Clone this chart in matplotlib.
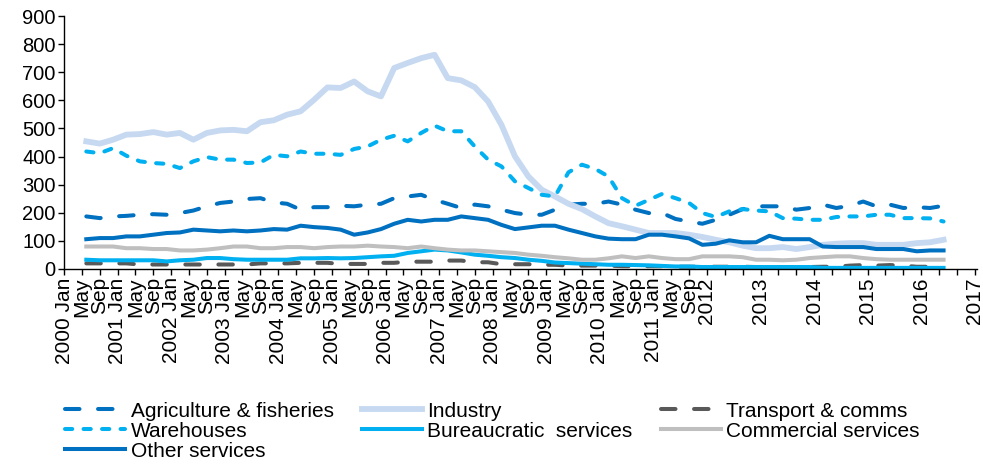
import numpy as np
import pandas as pd
import matplotlib
matplotlib.use('Agg')
import matplotlib.pyplot as plt

plt.rcParams['font.family'] = ['Liberation Sans', 'DejaVu Sans']

# quarterly readings, Jun 2000 - Jun 2016
dates = pd.date_range('2000-06-01', periods=65, freq='3MS')

agriculture = [187, 181, 187, 189, 193, 195, 193, 199, 208, 223, 235, 240, 249, 252, 237, 232,
               211, 220, 220, 225, 223, 229, 232, 252, 258, 264, 246, 232, 217, 229, 223, 211,
               199, 193, 193, 211, 229, 232, 232, 240, 229, 211, 199, 199, 178, 169, 161, 175,
               193, 213, 223, 223, 223, 211, 217, 229, 217, 225, 240, 223, 229, 217, 220, 217, 225]
industry = [454, 446, 460, 478, 480, 487, 478, 484, 460, 484, 493, 495, 490, 522, 529, 549,
            561, 602, 646, 644, 667, 632, 614, 715, 733, 750, 762, 679, 671, 647, 596, 513,
            401, 329, 282, 258, 232, 213, 187, 163, 152, 140, 128, 128, 128, 122, 114, 104,
            95, 83, 74, 74, 78, 71, 78, 86, 90, 92, 92, 86, 86, 86, 92, 95, 104]
transport = [20, 20, 20, 20, 16, 16, 16, 16, 16, 16, 16, 16, 16, 20, 20, 20,
             22, 22, 22, 18, 18, 18, 22, 22, 26, 26, 26, 30, 30, 24, 24, 17,
             17, 17, 15, 15, 12, 12, 12, 12, 10, 10, 10, 10, 8, 8, 8, 8,
             8, 8, 7, 7, 7, 7, 7, 8, 8, 12, 14, 12, 14, 12, 8, 8, 6]
warehouses = [418, 412, 430, 403, 383, 377, 374, 359, 383, 398, 389, 389, 377, 379, 406, 401,
              418, 410, 410, 406, 427, 436, 460, 474, 454, 484, 510, 490, 490, 436, 389, 365,
              312, 288, 264, 258, 344, 371, 356, 329, 252, 225, 246, 267, 252, 235, 199, 185,
              205, 213, 208, 205, 181, 179, 175, 175, 185, 187, 187, 193, 193, 181, 181, 180, 169]
bureaucratic = [33, 31, 31, 31, 31, 31, 27, 31, 33, 39, 39, 35, 33, 33, 33, 33,
                38, 38, 39, 38, 39, 42, 45, 47, 57, 63, 69, 66, 59, 51, 47, 42,
                39, 33, 29, 23, 21, 19, 17, 15, 15, 14, 13, 11, 9, 9, 7, 7,
                7, 7, 7, 7, 7, 7, 7, 4, 4, 4, 4, 4, 4, 4, 4, 4, 4]
commercial = [80, 80, 80, 74, 74, 71, 71, 66, 66, 69, 74, 80, 80, 74, 74, 78,
              78, 74, 78, 80, 80, 83, 80, 78, 74, 80, 74, 69, 66, 66, 63, 60,
              57, 51, 47, 42, 38, 33, 33, 38, 45, 39, 45, 39, 35, 35, 45, 45,
              45, 42, 33, 33, 31, 33, 39, 42, 45, 45, 39, 35, 33, 33, 33, 33, 33]
other = [106, 110, 110, 116, 116, 122, 128, 130, 140, 137, 134, 137, 134, 137, 142, 140,
         154, 149, 146, 140, 122, 130, 142, 161, 175, 169, 175, 175, 187, 181, 175, 157,
         142, 148, 154, 154, 140, 128, 116, 108, 106, 106, 122, 122, 116, 109, 86, 90,
         102, 95, 95, 118, 106, 106, 106, 80, 78, 78, 78, 71, 71, 71, 63, 66, 66]

# x axis: tick every 4 months, month names only up to 2011
ticks = pd.date_range('2000-01-01', '2017-01-01', freq='4MS')
tick_labels = []
for d in ticks:
    if d.year <= 2011:
        tick_labels.append(f'{d.year} Jan' if d.month == 1 else d.strftime('%b'))
    else:
        tick_labels.append(str(d.year) if d.month == 1 else '')

fig = plt.figure(figsize=(9.83, 4.66), dpi=100)
ax = fig.add_axes([64 / 983, 1 - 269 / 466, (977 - 64) / 983, (269 - 16) / 466])

lw = 2.9
h_agri, = ax.plot(dates, agriculture, color='#0070C0', lw=lw, dashes=(3.6, 4.6),
                  dash_capstyle='round', label='Agriculture & fisheries')
h_ind, = ax.plot(dates, industry, color='#C6D9F1', lw=4.2, solid_joinstyle='round',
                 label='Industry')
h_tr, = ax.plot(dates, transport, color='#595959', lw=lw, dashes=(3.6, 4.6),
                dash_capstyle='round', label='Transport & comms')
h_wh, = ax.plot(dates, warehouses, color='#00B0F0', lw=lw, dashes=(1.8, 2.8),
                dash_capstyle='round', label='Warehouses')
h_bur, = ax.plot(dates, bureaucratic, color='#00B0F0', lw=lw, label='Bureaucratic  services')
h_com, = ax.plot(dates, commercial, color='#BFBFBF', lw=lw, label='Commercial services')
h_oth, = ax.plot(dates, other, color='#0070C0', lw=lw, label='Other services')

ax.set_ylim(0, 900)
ax.set_yticks(np.arange(0, 901, 100))
ax.set_xlim(pd.Timestamp('2000-01-01'), pd.Timestamp('2017-01-15'))
ax.set_xticks(ticks)
ax.set_xticklabels(tick_labels, rotation=90)
ax.tick_params(axis='both', direction='out', length=4, width=1, labelsize=14.5, pad=2,
               colors='black')
ax.tick_params(axis='x', labelsize=15)

for s in ['top', 'right']:
    ax.spines[s].set_visible(False)
for s in ['left', 'bottom']:
    ax.spines[s].set_linewidth(1)

# row-major legend order (matplotlib fills columns first)
handles = [h_agri, h_wh, h_oth, h_ind, h_bur, h_tr, h_com]
fig.legend(handles=handles, labels=[h.get_label() for h in handles], ncol=3,
           loc='upper left', bbox_to_anchor=(0.066, 0.138), frameon=False,
           fontsize=15, handlelength=2.9, handletextpad=0.25, columnspacing=1.35,
           labelspacing=0.05, borderpad=0, borderaxespad=0)

fig.savefig('out.png', dpi=100)
